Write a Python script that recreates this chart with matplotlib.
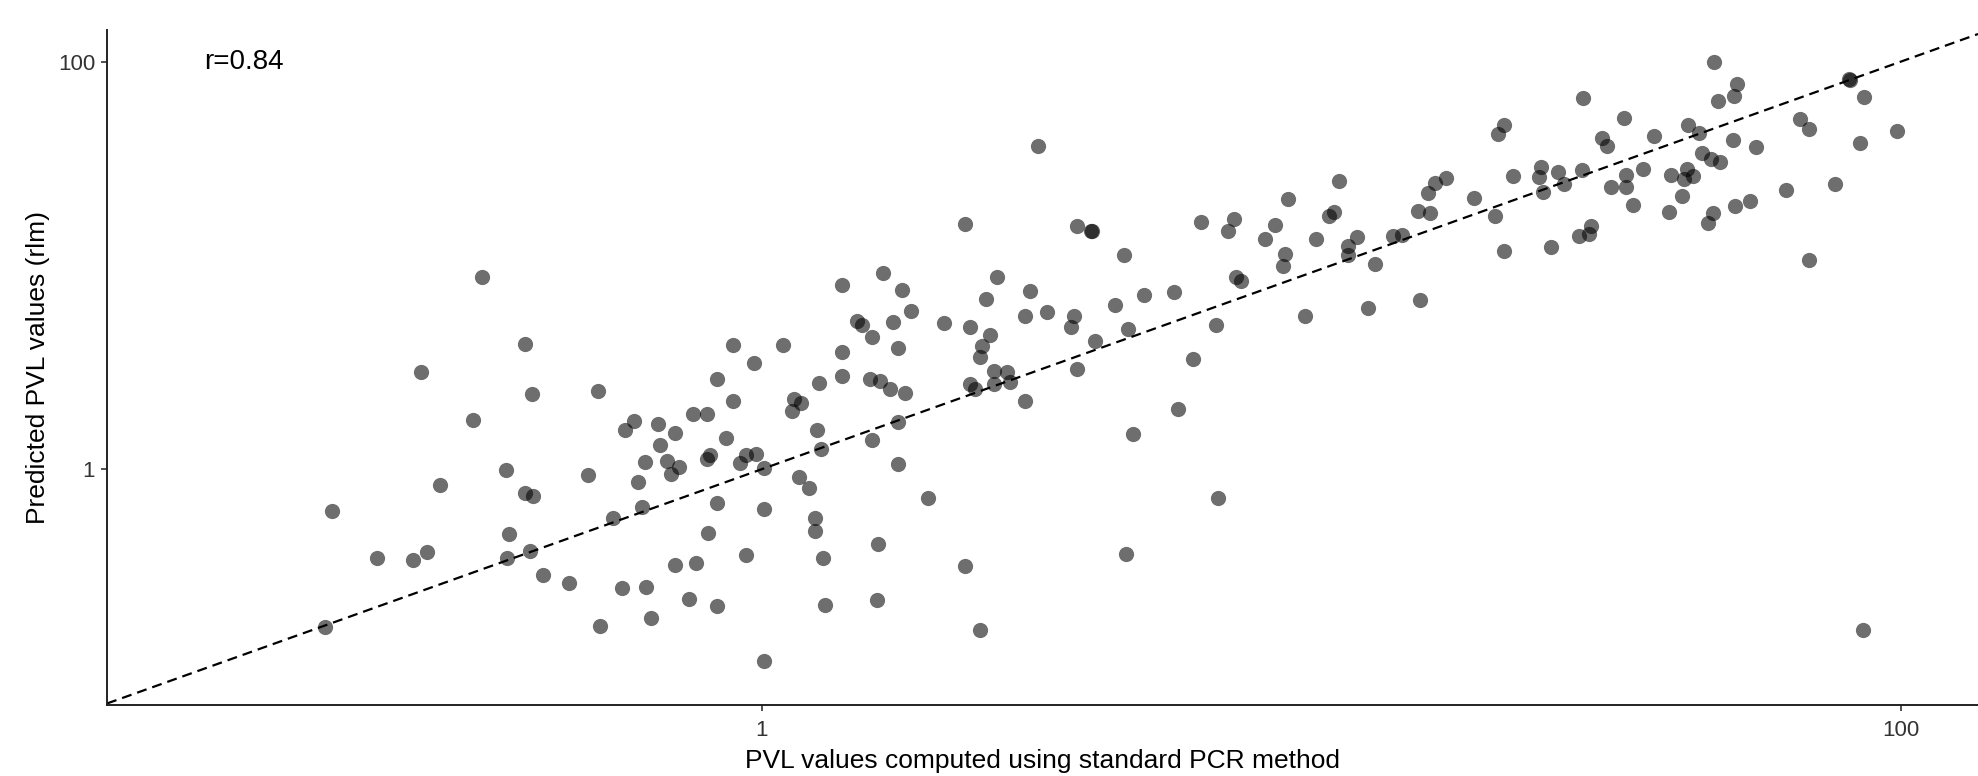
import matplotlib.pyplot as plt

# -------------------------
# Data
# -------------------------
pcr_values = [
    0.323, 0.384, 0.252, 0.395, 0.515, 0.311, 0.597, 0.574, 0.658, 0.704,
    0.663, 0.622, 0.681, 0.691, 0.716, 0.607, 0.615, 0.547, 0.495, 0.356,
    0.272, 0.383, 0.397, 0.176, 0.360, 0.211, 0.244, 0.258, 0.357, 0.392,
    0.413, 0.458, 0.568, 0.625, 0.705, 0.520, 0.638, 0.171,
    2.27, 1.63, 2.59, 1.38, 1.76, 2.47, 2.95, 1.83, 2.90, 1.47,
    1.50, 1.70, 2.09, 2.32, 2.51, 1.56, 2.43, 2.41, 1.73, 1.38,
    0.890, 1.09, 0.968, 1.38, 1.26, 0.835, 1.55, 1.61, 1.68, 1.78,
    2.55, 2.69, 2.73, 2.55, 2.32, 2.37, 2.90, 0.890, 1.14, 1.17,
    1.13, 0.758, 0.800, 0.864, 1.25, 1.73, 0.810, 0.800, 0.938, 0.976,
    0.915, 1.01, 1.27, 1.56, 1.16, 1.21, 1.73, 0.834, 1.01, 1.96,
    1.24, 1.24, 0.804, 1.60, 0.939, 0.767, 1.28, 2.27, 0.746, 0.833,
    1.29, 1.59, 2.41, 1.01,
    3.05, 3.58, 3.78, 3.80, 4.32, 3.17, 3.53, 3.49, 4.16, 4.68,
    5.29, 4.40, 3.85, 3.58, 6.27, 5.72, 5.37, 4.49, 6.32, 4.35,
    5.91, 6.75, 6.59, 6.80, 6.94, 7.65, 7.96, 8.38, 8.29, 8.23,
    9.00, 9.39, 10.3, 9.89, 10.1, 10.7, 10.7, 11.1, 11.9, 11.6,
    12.8, 13.3,
    47.0, 47.8, 27.6, 32.6, 20.1, 19.6, 42.3, 44.2, 29.9, 30.4,
    36.8, 44.7, 46.4, 48.1, 15.9, 15.2, 14.8, 20.8, 23.3, 23.1,
    25.0, 25.6, 23.5, 27.5, 32.9, 31.0, 32.9, 35.3, 39.4, 42.1,
    43.2, 41.6, 41.2, 33.8, 39.1, 46.7, 45.9, 17.8, 14.2, 14.9,
    19.4, 28.5, 27.2, 28.3, 20.1, 24.3, 14.3,
    51.6, 51.0, 81.0, 81.3, 86.1, 66.5, 68.9, 98.2, 84.8, 50.7,
    55.6, 62.8, 76.7, 51.2, 54.2, 68.8, 85.9,
]

rlm_values = [
    8.75, 4.10, 2.99, 2.34, 2.43, 1.74, 1.73, 1.56, 1.67, 1.51,
    1.32, 1.09, 1.10, 0.944, 1.03, 0.864, 0.650, 0.574, 0.938, 0.991,
    0.840, 0.762, 0.736, 0.622, 0.481, 0.368, 0.359, 0.394, 0.368, 0.396,
    0.304, 0.276, 0.262, 0.264, 0.340, 0.170, 0.185, 0.168,
    16.0, 9.21, 8.73, 7.98, 7.57, 6.84, 7.46, 6.00, 5.65, 5.36,
    5.08, 5.30, 5.21, 4.97, 4.57, 4.47, 4.00, 3.54, 3.91, 3.77,
    4.05, 4.05, 3.33, 2.86, 2.64, 2.76, 2.76, 2.71, 2.47, 2.37,
    3.03, 2.99, 2.68, 2.62, 2.62, 2.48, 2.17, 2.16, 2.21, 2.11,
    1.92, 1.86, 1.86, 1.42, 1.55, 1.70, 1.17, 1.12, 1.17, 1.19,
    1.07, 1.01, 1.25, 1.39, 0.913, 0.806, 1.06, 0.681, 0.634, 0.718,
    0.574, 0.498, 0.485, 0.427, 0.380, 0.345, 0.368, 0.333, 0.231, 0.214,
    0.216, 0.227, 0.162, 0.114,
    38.4, 15.6, 14.8, 14.7, 11.2, 5.89, 5.67, 4.99, 6.37, 7.13,
    7.38, 4.88, 4.26, 3.10, 5.10, 3.47, 1.98, 1.49, 0.718, 0.384,
    16.4, 16.8, 14.8, 8.81, 8.38, 13.5, 15.7, 21.2, 11.4, 9.97,
    5.67, 13.4, 25.9, 17.5, 18.2, 12.5, 11.2, 13.8, 10.2, 6.16,
    14.0, 14.1,
    99.2, 64.3, 66.0, 52.7, 48.8, 43.9, 48.8, 44.5, 42.0, 38.5,
    43.0, 35.5, 33.2, 32.1, 26.7, 25.3, 22.6, 27.5, 30.3, 27.0,
    28.7, 25.0, 22.9, 29.3, 27.6, 24.3, 24.2, 29.6, 27.8, 29.6,
    27.5, 26.5, 22.0, 19.7, 18.3, 18.1, 16.2, 21.3, 18.5, 18.1,
    17.5, 15.6, 13.9, 14.3, 11.7, 12.3, 6.74,
    77.4, 67.7, 82.2, 81.2, 66.7, 52.5, 46.6, 45.5, 40.0, 41.2,
    38.2, 23.4, 25.1, 19.5, 20.6, 10.6, 0.162,
]

tick_values = [1, 100]
tick_labels = ["1", "100"]
r_label = "r=0.84"

# -------------------------
# Plot
# -------------------------
plt.rcParams["font.family"] = ["Liberation Sans", "DejaVu Sans"]

fig = plt.figure(figsize=(19.78, 7.76), dpi=100)
ax = fig.add_axes([0.0541, 0.0915, 0.9459, 0.8698])

ax.set_xscale("log")
ax.set_yscale("log")
ax.set_xlim(0.0708, 136.5)
ax.set_ylim(0.0696, 142.8)

ax.scatter(pcr_values, rlm_values, s=120, color="black", alpha=0.57,
           linewidths=0, zorder=3)

# identity line
ax.axline((1, 1), (100, 100), color="black", linewidth=1.6,
          dashes=(4.5, 2.7), zorder=2)

ax.text(0.105, 99, r_label, ha="left", va="center", fontsize=20, color="black")

ax.set_xticks(tick_values)
ax.set_xticklabels(tick_labels)
ax.set_yticks(tick_values)
ax.set_yticklabels(tick_labels)
ax.minorticks_off()
ax.tick_params(axis="both", length=4.5, width=1.2, color="#333333",
               labelsize=16, labelcolor="#333333", pad=4)
ax.tick_params(axis="x", pad=6)

for side in ["top", "right"]:
    ax.spines[side].set_visible(False)
for side in ["left", "bottom"]:
    ax.spines[side].set_linewidth(1.4)
    ax.spines[side].set_color("#222222")

ax.set_xlabel("PVL values computed using standard PCR method", fontsize=19,
              labelpad=6)
ax.set_ylabel("Predicted PVL values (rlm)", fontsize=19, labelpad=6)

fig.savefig("out.png", dpi=100)
